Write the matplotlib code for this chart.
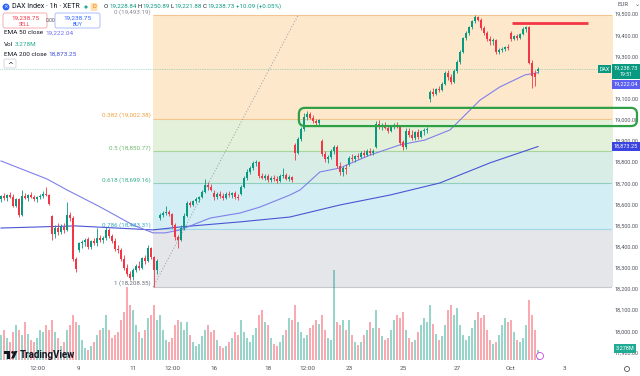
import matplotlib.pyplot as plt
from matplotlib.patches import FancyBboxPatch, Rectangle, Circle, Polygon
import numpy as np

plt.rcParams['font.family'] = ['Roboto', 'DejaVu Sans']

# DAX 1h candles, bar 0 = Sep 4; sessions of 9 bars (Oct 1 has 10)
opens = [18625, 18640, 18630, 18645, 18635, 18590, 18625, 18550,
         18640, 18630, 18645, 18635, 18625, 18635, 18640, 18650, 18645,
         18545, 18460, 18490, 18470, 18495, 18480, 18550, 18535, 18340,
         18385, 18415, 18420, 18435, 18400, 18425, 18415, 18440, 18430,
         18440, 18480, 18450, 18425, 18390, 18385, 18340, 18300, 18270,
         18255, 18290, 18310, 18300, 18345, 18330, 18395, 18350, 18290,
         18535, 18550, 18560, 18565, 18555, 18500, 18445, 18430, 18490,
         18545, 18605, 18595, 18615, 18625, 18635, 18660, 18690, 18680,
         18655, 18635, 18650, 18640, 18630, 18650, 18645, 18655, 18635,
         18650, 18680, 18725, 18755, 18770, 18795, 18800, 18735, 18725,
         18735, 18715, 18725, 18720, 18710, 18735, 18740, 18720, 18730,
         18880, 18845, 18910, 18955, 19015, 19025, 19010, 18995, 18985,
         18900, 18840, 18815, 18825, 18850, 18870, 18780, 18755, 18770,
         18790, 18820, 18815, 18830, 18825, 18845, 18835, 18850, 18845,
         18870, 18980, 18965, 18975, 18960, 18945, 18965, 18975, 18970,
         18895, 18870, 18945, 18930, 18915, 18940, 18920, 18945, 18950,
         19100, 19130, 19120, 19145, 19140, 19170, 19220, 19200, 19180,
         19230, 19275, 19320, 19385, 19410, 19440, 19465, 19485, 19470,
         19435, 19410, 19380, 19370, 19375, 19320, 19330, 19335, 19345,
         19410, 19380, 19395, 19385, 19405, 19430, 19440, 19270, 19220, 19228.84]
highs = [18645, 18655, 18650, 18660, 18650, 18630, 18630, 18670,
         18655, 18650, 18660, 18645, 18640, 18650, 18665, 18680, 18650,
         18550, 18500, 18510, 18505, 18510, 18610, 18565, 18545, 18350,
         18420, 18430, 18440, 18445, 18430, 18440, 18490, 18455, 18450,
         18495, 18490, 18460, 18440, 18410, 18395, 18360, 18320, 18285,
         18300, 18320, 18330, 18350, 18360, 18410, 18400, 18355, 18340,
         18560, 18570, 18590, 18575, 18560, 18510, 18455, 18500, 18560,
         18615, 18615, 18620, 18635, 18640, 18670, 18720, 18705, 18695,
         18670, 18660, 18665, 18655, 18660, 18665, 18660, 18665, 18650,
         18690, 18735, 18765, 18780, 18805, 18810, 18805, 18750, 18745,
         18745, 18735, 18740, 18735, 18745, 18770, 18750, 18740, 18735,
         18890, 18920, 18965, 19030, 19040, 19035, 19020, 19005, 19005,
         18910, 18850, 18835, 18860, 18880, 18880, 18800, 18780, 18790,
         18830, 18840, 18835, 18845, 18850, 18855, 18860, 18865, 18860,
         18995, 19000, 18985, 18990, 18975, 18970, 18985, 18990, 18975,
         18905, 18960, 18960, 18950, 18945, 18955, 18950, 18960, 18965,
         19140, 19150, 19150, 19160, 19180, 19230, 19235, 19215, 19240,
         19280, 19330, 19390, 19420, 19445, 19470, 19493.19, 19490, 19480,
         19445, 19420, 19395, 19385, 19380, 19340, 19345, 19350, 19360,
         19420, 19400, 19405, 19410, 19440, 19445, 19445, 19280, 19235, 19250.89]
lows = [18610, 18620, 18615, 18630, 18585, 18585, 18540, 18545,
        18625, 18615, 18630, 18615, 18610, 18625, 18630, 18640, 18595,
        18430, 18440, 18455, 18460, 18465, 18475, 18520, 18330, 18280,
        18375, 18395, 18405, 18390, 18390, 18410, 18405, 18420, 18415,
        18430, 18440, 18415, 18380, 18370, 18330, 18290, 18260, 18240,
        18240, 18280, 18290, 18295, 18320, 18325, 18340, 18208.35, 18270,
        18525, 18540, 18550, 18545, 18490, 18430, 18395, 18425, 18480,
        18540, 18585, 18590, 18605, 18610, 18630, 18655, 18670, 18665,
        18620, 18625, 18630, 18620, 18625, 18635, 18630, 18625, 18620,
        18645, 18675, 18715, 18745, 18760, 18780, 18725, 18720, 18715,
        18705, 18705, 18710, 18700, 18705, 18725, 18715, 18710, 18705,
        18810, 18840, 18900, 18945, 19000, 19005, 18985, 18970, 18975,
        18830, 18800, 18795, 18815, 18840, 18770, 18740, 18735, 18745,
        18780, 18805, 18800, 18815, 18820, 18825, 18830, 18835, 18835,
        18865, 18955, 18950, 18955, 18935, 18940, 18955, 18960, 18880,
        18855, 18860, 18920, 18905, 18905, 18910, 18915, 18930, 18935,
        19085, 19110, 19115, 19130, 19135, 19165, 19190, 19170, 19175,
        19220, 19265, 19315, 19375, 19400, 19430, 19455, 19465, 19425,
        19400, 19370, 19355, 19355, 19310, 19310, 19320, 19325, 19330,
        19370, 19375, 19375, 19380, 19400, 19415, 19265, 19150, 19160, 19221.88]
closes = [18640, 18630, 18645, 18635, 18590, 18625, 18550, 18640,
          18630, 18645, 18635, 18625, 18635, 18640, 18650, 18645, 18600,
          18460, 18490, 18470, 18495, 18480, 18550, 18535, 18340, 18295,
          18415, 18420, 18430, 18400, 18425, 18415, 18440, 18430, 18440,
          18480, 18450, 18425, 18390, 18385, 18340, 18300, 18270, 18250,
          18290, 18310, 18300, 18345, 18330, 18395, 18350, 18290, 18330,
          18550, 18560, 18565, 18555, 18500, 18445, 18430, 18490, 18545,
          18605, 18595, 18615, 18625, 18635, 18660, 18690, 18680, 18670,
          18635, 18650, 18640, 18630, 18650, 18645, 18655, 18635, 18630,
          18680, 18725, 18755, 18770, 18795, 18800, 18735, 18725, 18735,
          18715, 18725, 18720, 18710, 18735, 18740, 18720, 18730, 18715,
          18845, 18910, 18955, 19015, 19025, 19010, 18995, 18985, 19000,
          18840, 18815, 18825, 18850, 18870, 18780, 18755, 18770, 18765,
          18820, 18815, 18830, 18825, 18845, 18835, 18850, 18845, 18850,
          18980, 18965, 18975, 18960, 18945, 18965, 18975, 18970, 18890,
          18870, 18945, 18930, 18915, 18940, 18920, 18945, 18950, 18955,
          19130, 19120, 19145, 19140, 19170, 19220, 19200, 19180, 19230,
          19275, 19320, 19385, 19410, 19440, 19465, 19485, 19470, 19435,
          19410, 19380, 19370, 19375, 19320, 19330, 19335, 19345, 19340,
          19380, 19395, 19385, 19405, 19430, 19440, 19270, 19205, 19200, 19238.73]
volumes = [8.2, 9.8, 7.2, 5.9, 9.2, 11.5, 9.8, 8.2,
           12.5, 8.5, 6.6, 5.9, 7.2, 9.8, 9.2, 11.5, 9.8,
           13.1, 9.2, 7.2, 4.6, 5.9, 9.8, 11.5, 14.8, 12.5,
           11.5, 6.6, 3.9, 3.3, 4.6, 5.9, 8.2, 9.8, 10.5,
           14.8, 9.8, 7.2, 8.2, 9.2, 13.1, 15.7, 23.9, 18.0,
           16.4, 11.5, 9.2, 7.2, 9.8, 13.8, 14.8, 18.0, 13.1,
           14.8, 9.8, 6.6, 5.9, 7.2, 11.5, 13.1, 12.5, 9.8,
           12.5, 8.2, 5.9, 4.6, 5.2, 7.9, 9.8, 11.5, 9.2,
           9.8, 6.6, 4.6, 3.9, 4.6, 5.9, 7.2, 9.2, 8.2,
           13.1, 9.2, 7.2, 5.9, 8.2, 10.5, 14.8, 16.4, 12.5,
           11.5, 7.2, 5.2, 4.6, 5.9, 8.2, 9.8, 13.8, 13.1,
           18.0, 12.5, 9.2, 7.2, 8.2, 10.5, 11.5, 13.1, 11.8,
           14.8, 9.8, 7.2, 6.6, 29.5, 12.5, 11.5, 13.1, 9.8,
           13.1, 8.2, 5.9, 4.9, 5.9, 8.2, 9.8, 12.5, 10.5,
           16.4, 10.5, 7.9, 6.6, 7.2, 9.8, 13.1, 14.8, 13.8,
           15.7, 9.8, 7.2, 5.9, 6.6, 9.2, 11.5, 13.8, 12.5,
           18.0, 11.8, 8.5, 6.6, 7.9, 11.5, 16.4, 18.0, 14.8,
           17.0, 11.5, 8.2, 6.6, 7.9, 10.5, 13.1, 15.7, 13.8,
           14.8, 9.8, 6.6, 5.2, 5.9, 8.2, 11.5, 13.8, 12.5,
           13.1, 9.2, 6.6, 5.9, 7.2, 11.5, 19.7, 14.8, 9.8, 3.278]

# moving averages (bar index, value)
ema50_idx = [0, 15.3, 22, 33, 44, 50.7, 54.7, 59.7, 69.7, 79.7, 86.3, 96.3, 99.7,
             106.3, 113, 123, 133, 141.3, 149.7, 159.7, 166.3, 174.7, 179]
ema50_val = [18805, 18720, 18668, 18588, 18502, 18465, 18465, 18479, 18535, 18559, 18587,
             18644, 18668, 18753, 18772, 18833, 18881, 18904, 18952, 19093, 19155,
             19212, 19222.04]
ema200_idx = [0, 24.7, 50.7, 59.7, 79.7, 96.3, 113, 129.7, 146.3, 163, 179]
ema200_val = [18488, 18498, 18479, 18493, 18517, 18540, 18597, 18644, 18701, 18796, 18873.25]

# fibonacci retracement
fib_ratios = ['0', '0.382', '0.5', '0.618', '0.786', '1']
fib_prices = [19493.19, 19002.38, 18850.77, 18699.16, 18483.31, 18208.35]
fib_start, fib_end = 50.67, 99.0
zone_colors = ['#fde8cc', '#e3f1da', '#d7ede5', '#d3eef4', '#e5e6ea']
line_colors = ['#f2c48e', '#f2c48e', '#a9d49c', '#8fd0c0', '#a3d8e6', '#c6c8ce']
label_colors = ['#8a8d96', '#f0a040', '#6cb86c', '#3aae8f', '#3aa8c0', '#6a6d78']

resist_price, resist_from, resist_to = 19457, 170.3, 195.7
box_top, box_bottom, box_from, box_to = 19056, 18970, 99.3, 212.0

tick_idx = [12, 26, 44, 57, 71, 89, 102, 116, 134, 152, 170, 188]
tick_lbl = ['12:00', '9', '11', '12:00', '16', '18', '12:00', '23', '25', '27', 'Oct', '3']
price_ticks = [17900, 18000, 18100, 18200, 18300, 18400, 18500, 18600, 18700,
               18800, 18900, 19000, 19100, 19300, 19400, 19500]

UP, DOWN, TXT = '#089981', '#f23645', '#131722'
W, H = 640, 376

fig = plt.figure(figsize=(6.4, 3.76), dpi=100)
ax = fig.add_axes([0, 16 / H, 612 / W, 360 / H])
ax.set_xlim(-0.33, 203.67)
ax.set_ylim(17864, 19566)
for s in ax.spines.values():
    s.set_visible(False)

# fib zones, lines and labels
for k in range(5):
    ax.fill_between([fib_start, 204], fib_prices[k + 1], fib_prices[k],
                    color=zone_colors[k], lw=0, zorder=0)
for k, p in enumerate(fib_prices):
    ax.hlines(p, fib_start, 204, color=line_colors[k], lw=0.8, zorder=1)
    ax.text(fib_start - 0.9, p + 17, f'{fib_ratios[k]} ({p:,.2f})', ha='right', va='center',
            fontsize=4.5, color=label_colors[k])
ax.plot([fib_start, fib_end], [fib_prices[-1], fib_prices[0]], color='#9598a1',
        lw=0.7, ls=(0, (1, 2)), zorder=1)

idx = np.arange(len(closes))
o, h, l, c = map(np.array, (opens, highs, lows, closes))
cols = np.where(c >= o, UP, DOWN)

# last price line
ax.axhline(closes[-1], color=UP, lw=0.5, ls=(0, (1, 1.5)), alpha=0.6, zorder=1)
ax.plot(ema200_idx, ema200_val, color='#4a55d4', lw=0.8, zorder=2)
ax.plot(ema50_idx, ema50_val, color='#8080ea', lw=0.8, zorder=2)
ax.vlines(idx, l, h, colors=cols, lw=0.6, zorder=3)
ax.bar(idx, np.maximum(np.abs(c - o), 2), bottom=np.minimum(o, c), width=0.66,
       color=cols, lw=0, zorder=4)
ax.hlines(resist_price, resist_from, resist_to, color=DOWN, lw=2, zorder=5)

# volume
axv = ax.twinx()
axv.set_ylim(0, 118)
axv.bar(idx, volumes, width=0.75, color=cols, alpha=0.42, lw=0)
axv.set_yticks([])
for s in axv.spines.values():
    s.set_visible(False)

# price / time scales (after twinx, which moves ticks to the left)
ax.yaxis.tick_right()
ax.set_yticks(price_ticks, [f'{v:,.2f}' for v in price_ticks])
ax.set_xticks(tick_idx, tick_lbl)
ax.tick_params(axis='y', length=0, pad=2, labelsize=4.0, labelcolor='#50535e')
ax.tick_params(axis='x', length=0, pad=4, labelsize=4.6, labelcolor='#50535e')

# overlay in pixel units
ov = fig.add_axes([0, 0, 1, 1])
ov.set_xlim(0, W)
ov.set_ylim(H, 0)
ov.axis('off')
ov.patch.set_visible(False)
rend = fig.canvas.get_renderer()


def py(price):
    return H - ax.transData.transform((0, price))[1]


def px(i):
    return ax.transData.transform((i, 0))[0]


def row(x, y, parts, size=4.6, gap=1.8):
    for s, col in parts:
        t = ov.text(x, y, s, color=col, fontsize=size, va='center', ha='left')
        x += t.get_window_extent(rend).width + gap
    return x


# green zone drawing
x0, x1 = px(box_from), px(box_to)
y0, y1 = py(box_top), py(box_bottom)
ov.add_patch(FancyBboxPatch((x0, y0), x1 - x0, y1 - y0, boxstyle='round,pad=0,rounding_size=6',
                            fill=False, ec='#2fa046', lw=1.6, zorder=6))


# price scale labels
def tag(y, text, fc, x=612, w=28, hh=9, size=4.0):
    ov.add_patch(Rectangle((x, y - hh / 2), w, hh, fc=fc, ec='none', zorder=7))
    ov.text(x + w / 2, y, text, color='white', fontsize=size, ha='center', va='center', zorder=8)


yc = py(closes[-1])
ov.add_patch(Rectangle((612, yc - 5), 28, 15, fc=UP, ec='none', zorder=7))
ov.text(626, yc - 1, f'{closes[-1]:,.2f}', color='white', fontsize=4.0, ha='center', va='center', zorder=8)
ov.text(626, yc + 5.5, '19:51', color='white', fontsize=3.8, ha='center', va='center', zorder=8)
tag(yc, 'DAX', UP, x=598, w=13, hh=8, size=3.8)
tag(yc + 15, f'{ema50_val[-1]:,.2f}', '#5b5ff0')
tag(py(ema200_val[-1]), f'{ema200_val[-1]:,.2f}', '#3b44e0')
tag(348, f'{volumes[-1]:.3f}M', '#22ab94', x=614, w=22)
ov.text(618, 5, 'EUR', fontsize=4.4, color='#50535e', va='center')
ov.text(635, 4, '⌄', fontsize=4.4, color='#50535e', va='center', family='DejaVu Sans')

# header legend
ov.add_patch(Circle((6, 7), 3.4, fc='#2962ff', ec='none'))
ov.text(6, 7, '×', color='white', fontsize=4, ha='center', va='center', family='DejaVu Sans')
row(12, 7, [('DAX Index · 1h · XETR', TXT)], size=5)
ov.add_patch(Circle((86, 7), 1.6, fc='#22ab94', ec='none'))
ov.add_patch(FancyBboxPatch((90.5, 3), 7, 8, boxstyle='round,pad=0,rounding_size=1.5',
                            fc='#ffe0b2', ec='none'))
ov.text(94, 7, 'D', color='#f57c00', fontsize=4.2, ha='center', va='center')
row(104, 6.5, [('O', TXT), (f'{opens[-1]:,.2f}', UP), ('H', TXT), (f'{highs[-1]:,.2f}', UP),
               ('L', TXT), (f'{lows[-1]:,.2f}', UP), ('C', TXT), (f'{closes[-1]:,.2f}', UP),
               ('+10.09 (+0.05%)', UP)], size=4.4, gap=0.8)

ov.add_patch(FancyBboxPatch((3, 13), 44, 15, boxstyle='round,pad=0,rounding_size=2',
                            fc='white', ec='#f7a1a8', lw=0.6))
ov.text(25, 18, '19,238.75', color=DOWN, fontsize=4.6, ha='center', va='center')
ov.text(25, 24.5, 'SELL', color=DOWN, fontsize=3.8, ha='center', va='center')
ov.text(51, 20.5, '0.00', color='#50535e', fontsize=3.6, ha='center', va='center')
ov.add_patch(FancyBboxPatch((55, 13), 45, 15, boxstyle='round,pad=0,rounding_size=2',
                            fc='white', ec='#9fb5f7', lw=0.6))
ov.text(77.5, 18, '19,238.75', color='#2962ff', fontsize=4.6, ha='center', va='center')
ov.text(77.5, 24.5, 'BUY', color='#2962ff', fontsize=3.8, ha='center', va='center')

row(4, 33, [('EMA 50 close', TXT), (f'{ema50_val[-1]:,.2f}', '#6c6cf0')])
row(4, 44, [('Vol', TXT), (f'{volumes[-1]:.3f}M', '#22ab94')])
row(4, 54, [('EMA 200 close', TXT), (f'{ema200_val[-1]:,.2f}', '#3d4ed8')])
ov.add_patch(FancyBboxPatch((4, 59), 12, 9, boxstyle='round,pad=0,rounding_size=1.5',
                            fc='white', ec='#d1d4dc', lw=0.6))
ov.text(10, 64.5, '^', color=TXT, fontsize=5, ha='center', va='center', family='DejaVu Sans')

# TradingView watermark
ov.add_patch(Rectangle((4, 351), 6, 2.6, fc=TXT, ec='none'))
ov.add_patch(Rectangle((7, 351), 3, 7.5, fc=TXT, ec='none'))
ov.add_patch(Circle((12.6, 352.4), 1.4, fc=TXT, ec='none'))
ov.add_patch(Polygon([(11, 358.5), (14.5, 351), (17.5, 351), (14, 358.5)], fc=TXT, ec='none'))
ov.text(20, 355, 'TradingView', color=TXT, fontsize=7, fontweight='bold', va='center')

# small icons
ov.add_patch(Circle((540, 356), 3.5, fc='white', ec='#c44ad8', lw=0.6))
ov.add_patch(Circle((627, 369), 2.5, fc='none', ec='#50535e', lw=0.6))

fig.savefig('out.png', dpi=100, facecolor='white')
